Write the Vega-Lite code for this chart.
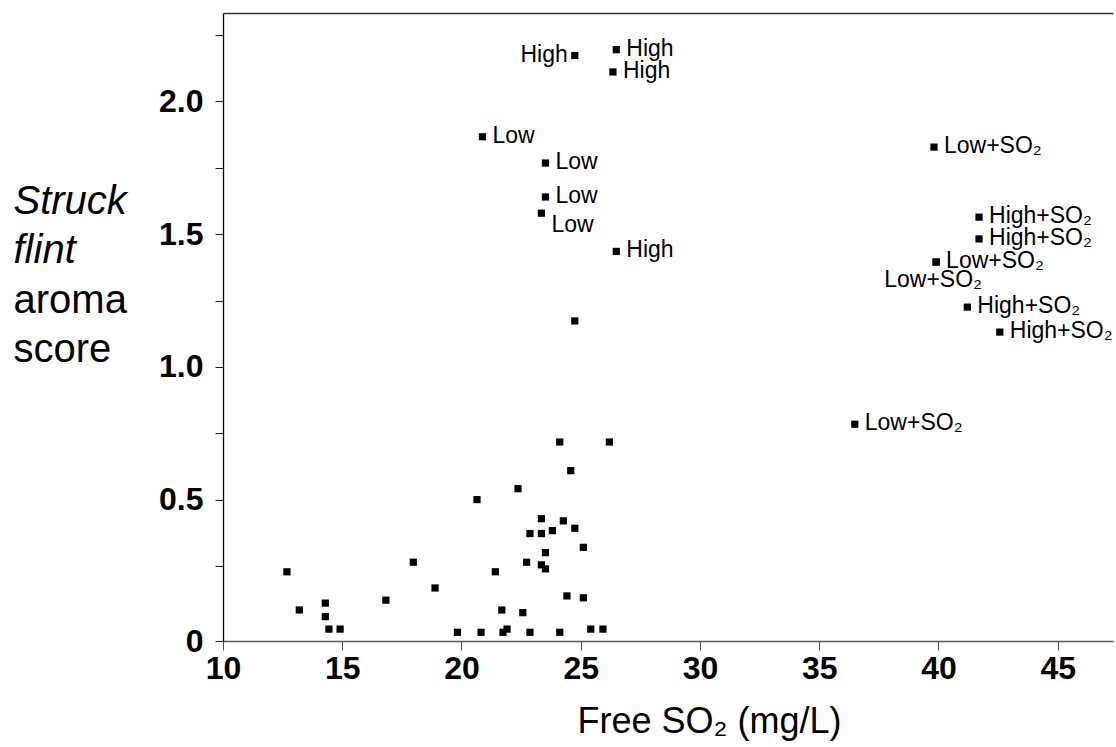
{
  "$schema": "https://vega.github.io/schema/vega-lite/v6.json",
  "autosize": {"type": "none"},
  "width": 890,
  "height": 628,
  "padding": {"left": 223, "top": 13, "right": 3, "bottom": 106},
  "background": "white",
  "config": {
    "view": {"stroke": null},
    "axis": {"grid": false},
    "font": "Liberation Sans",
    "text": {"font": "Liberation Sans"}
  },
  "data": {
    "values": [
      {"so2": 12.68, "score": 0.228, "label": "", "pos": "none"},
      {"so2": 13.20, "score": 0.084, "label": "", "pos": "none"},
      {"so2": 14.29, "score": 0.110, "label": "", "pos": "none"},
      {"so2": 14.29, "score": 0.059, "label": "", "pos": "none"},
      {"so2": 14.44, "score": 0.012, "label": "", "pos": "none"},
      {"so2": 14.91, "score": 0.012, "label": "", "pos": "none"},
      {"so2": 16.83, "score": 0.121, "label": "", "pos": "none"},
      {"so2": 17.98, "score": 0.264, "label": "", "pos": "none"},
      {"so2": 18.89, "score": 0.167, "label": "", "pos": "none"},
      {"so2": 19.83, "score": 0.0, "label": "", "pos": "none"},
      {"so2": 20.65, "score": 0.500, "label": "", "pos": "none"},
      {"so2": 20.82, "score": 0.0, "label": "", "pos": "none"},
      {"so2": 21.42, "score": 0.228, "label": "", "pos": "none"},
      {"so2": 21.69, "score": 0.084, "label": "", "pos": "none"},
      {"so2": 21.74, "score": 0.0, "label": "", "pos": "none"},
      {"so2": 21.91, "score": 0.012, "label": "", "pos": "none"},
      {"so2": 22.37, "score": 0.541, "label": "", "pos": "none"},
      {"so2": 22.57, "score": 0.074, "label": "", "pos": "none"},
      {"so2": 22.73, "score": 0.264, "label": "", "pos": "none"},
      {"so2": 22.87, "score": 0.372, "label": "", "pos": "none"},
      {"so2": 22.87, "score": 0.0, "label": "", "pos": "none"},
      {"so2": 23.35, "score": 0.428, "label": "", "pos": "none"},
      {"so2": 23.35, "score": 0.372, "label": "", "pos": "none"},
      {"so2": 23.35, "score": 0.254, "label": "", "pos": "none"},
      {"so2": 23.52, "score": 0.300, "label": "", "pos": "none"},
      {"so2": 23.52, "score": 0.239, "label": "", "pos": "none"},
      {"so2": 23.81, "score": 0.383, "label": "", "pos": "none"},
      {"so2": 24.12, "score": 0.717, "label": "", "pos": "none"},
      {"so2": 24.12, "score": 0.0, "label": "", "pos": "none"},
      {"so2": 24.27, "score": 0.420, "label": "", "pos": "none"},
      {"so2": 24.42, "score": 0.137, "label": "", "pos": "none"},
      {"so2": 24.58, "score": 0.609, "label": "", "pos": "none"},
      {"so2": 24.75, "score": 0.392, "label": "", "pos": "none"},
      {"so2": 25.11, "score": 0.320, "label": "", "pos": "none"},
      {"so2": 25.11, "score": 0.130, "label": "", "pos": "none"},
      {"so2": 25.42, "score": 0.012, "label": "", "pos": "none"},
      {"so2": 25.93, "score": 0.012, "label": "", "pos": "none"},
      {"so2": 26.20, "score": 0.717, "label": "", "pos": "none"},
      {"so2": 24.75, "score": 1.173, "label": "", "pos": "none"},
      {"so2": 24.75, "score": 2.173, "label": "High", "pos": "left"},
      {"so2": 26.49, "score": 2.195, "label": "High", "pos": "right"},
      {"so2": 26.35, "score": 2.111, "label": "High", "pos": "right"},
      {"so2": 20.88, "score": 1.867, "label": "Low", "pos": "right"},
      {"so2": 23.52, "score": 1.768, "label": "Low", "pos": "right"},
      {"so2": 23.52, "score": 1.640, "label": "Low", "pos": "right"},
      {"so2": 23.35, "score": 1.579, "label": "Low", "pos": "lowright"},
      {"so2": 26.49, "score": 1.435, "label": "High", "pos": "right"},
      {"so2": 39.81, "score": 1.828, "label": "Low+SO₂", "pos": "right"},
      {"so2": 41.70, "score": 1.564, "label": "High+SO₂", "pos": "right"},
      {"so2": 41.70, "score": 1.482, "label": "High+SO₂", "pos": "right"},
      {"so2": 39.90, "score": 1.395, "label": "Low+SO₂", "pos": "right"},
      {"so2": 39.90, "score": 1.395, "label": "Low+SO₂", "pos": "below"},
      {"so2": 41.21, "score": 1.225, "label": "High+SO₂", "pos": "right"},
      {"so2": 42.57, "score": 1.131, "label": "High+SO₂", "pos": "right"},
      {"so2": 36.49, "score": 0.784, "label": "Low+SO₂", "pos": "right"}
    ]
  },
  "layer": [
    {
      "mark": {"type": "point", "shape": "square", "filled": true, "color": "black", "opacity": 1, "size": 52},
      "encoding": {
        "x": {
          "field": "so2", "type": "quantitative",
          "scale": {"domain": [10, 47.317], "nice": false, "zero": false},
          "axis": {
            "orient": "bottom",
            "values": [10, 15, 20, 25, 30, 35, 40, 45],
            "labelFontSize": 32, "labelFontWeight": "bold", "labelColor": "black",
            "labelPadding": 3, "tickSize": 9, "tickColor": "#555", "domainColor": "#555", "domainWidth": 1.3,
            "labelFlush": false, "labelOverlap": false,
            "title": "Free SO₂ (mg/L)", "titleFontSize": 36, "titleFontWeight": "normal", "titleColor": "black",
            "titleX": 486, "titleY": 91, "titleAlign": "center", "titleBaseline": "alphabetic", "titleAnchor": null
          }
        },
        "y": {
          "field": "score", "type": "quantitative",
          "scale": {"domain": [-0.0328, 2.3332], "nice": false, "zero": false},
          "axis": {
            "orient": "left",
            "values": [-0.0328, 0.25, 0.5, 0.75, 1, 1.25, 1.5, 1.75, 2, 2.25],
            "labelExpr": "datum.value < 0 ? '0' : (round(datum.value * 2) == datum.value * 2 ? format(datum.value, '.1f') : '')",
            "labelFontSize": 32, "labelFontWeight": "bold", "labelColor": "black",
            "labelPadding": 12, "tickSize": 8, "tickColor": "#222", "domainColor": "black", "domainWidth": 1.3,
            "labelFlush": false, "labelOverlap": false,
            "title": ["aroma", "score"], "titleFontSize": 40, "titleFontWeight": "normal", "titleColor": "black",
            "titleAngle": 0, "titleAlign": "left", "titleBaseline": "alphabetic", "titleLineHeight": 49,
            "titleX": -210, "titleY": 299, "titleAnchor": null
          }
        }
      }
    },
    {
      "transform": [{"filter": "datum.pos == 'right'"}],
      "mark": {"type": "text", "align": "left", "baseline": "middle", "dx": 10, "dy": -1, "fontSize": 23, "color": "black"},
      "encoding": {
        "x": {"field": "so2", "type": "quantitative",
          "axis": {"orient": "top", "ticks": false, "labels": false, "title": null, "domainColor": "#333", "domainWidth": 1.5}},
        "y": {"field": "score", "type": "quantitative",
          "axis": {"orient": "left", "ticks": false, "labels": false, "domain": false,
            "title": ["Struck", "flint"], "titleFontSize": 40, "titleFontWeight": "normal", "titleFontStyle": "italic", "titleColor": "black",
            "titleAngle": 0, "titleAlign": "left", "titleBaseline": "alphabetic", "titleLineHeight": 49,
            "titleX": -210, "titleY": 200, "titleAnchor": null}},
        "text": {"field": "label"}
      }
    },
    {
      "transform": [{"filter": "datum.pos == 'left'"}],
      "mark": {"type": "text", "align": "right", "baseline": "middle", "dx": -7, "dy": -1, "fontSize": 23, "color": "black"},
      "encoding": {
        "x": {"field": "so2", "type": "quantitative", "axis": null},
        "y": {"field": "score", "type": "quantitative", "axis": null},
        "text": {"field": "label"}
      }
    },
    {
      "transform": [{"filter": "datum.pos == 'lowright'"}],
      "mark": {"type": "text", "align": "left", "baseline": "middle", "dx": 10, "dy": 12, "fontSize": 23, "color": "black"},
      "encoding": {
        "x": {"field": "so2", "type": "quantitative", "axis": null},
        "y": {"field": "score", "type": "quantitative", "axis": null},
        "text": {"field": "label"}
      }
    },
    {
      "transform": [{"filter": "datum.pos == 'below'"}],
      "mark": {"type": "text", "align": "center", "baseline": "middle", "dx": -3, "dy": 18, "fontSize": 23, "color": "black"},
      "encoding": {
        "x": {"field": "so2", "type": "quantitative", "axis": null},
        "y": {"field": "score", "type": "quantitative", "axis": null},
        "text": {"field": "label"}
      }
    }
  ],
  "resolve": {"axis": {"x": "independent", "y": "independent"}}
}
